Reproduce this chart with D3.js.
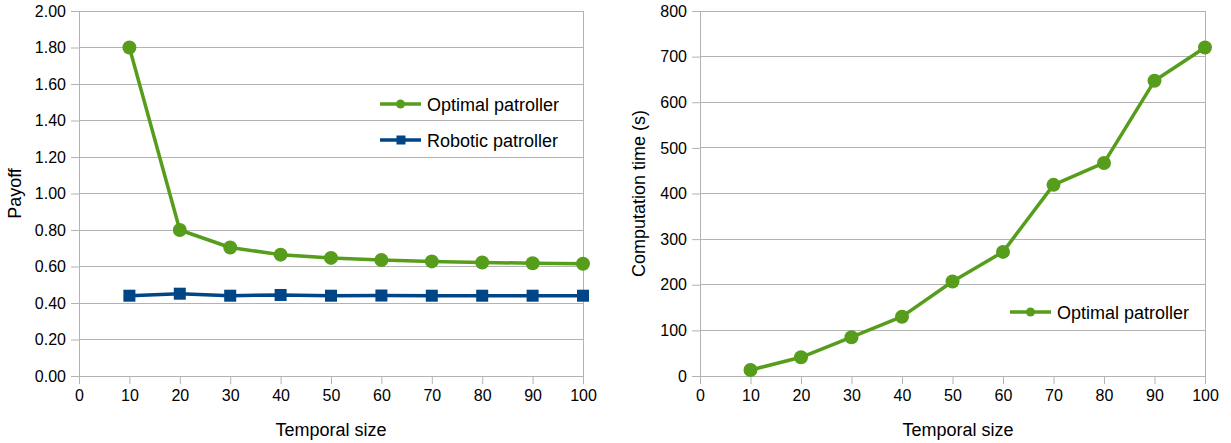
<!DOCTYPE html>
<html>
<head>
<meta charset="utf-8">
<script src="https://cdn.jsdelivr.net/npm/d3@7"></script>
<style>
  html, body { margin: 0; padding: 0; background: #fff; }
  svg { display: block; font-family: "Liberation Sans", Arial, sans-serif; }
</style>
</head>
<body>
<svg id="chart" width="1231" height="443"></svg>
<script>
// Temporal sizes shared by both panels
const temporalSizes = [10, 20, 30, 40, 50, 60, 70, 80, 90, 100];

// Left panel: payoff per patroller
const optimalPayoff = [1.80, 0.80, 0.704, 0.665, 0.647, 0.636, 0.628, 0.622, 0.618, 0.615];
const roboticPayoff = [0.44, 0.451, 0.44, 0.444, 0.44, 0.441, 0.44, 0.44, 0.44, 0.44];

// Right panel: computation time in seconds
const optimalTime = [13, 41, 85, 130, 207, 272, 419, 467, 647, 720];

// Tick values
const xTicks = [0, 10, 20, 30, 40, 50, 60, 70, 80, 90, 100];
const payoffTicks = [0, 0.2, 0.4, 0.6, 0.8, 1.0, 1.2, 1.4, 1.6, 1.8, 2.0];
const timeTicks = [0, 100, 200, 300, 400, 500, 600, 700, 800];

const GREEN = "#579d1c";
const BLUE = "#004586";
const GRID = "#b3b3b3";
const TEXT = "#000";
const TICK_FONT = 16;
const LABEL_FONT = 18;

const svg = d3.select("#chart");

function panel(opts) {
  const g = svg.append("g");
  const x = d3.scaleLinear().domain([0, 100]).range([opts.x0, opts.x1]);
  const y = d3.scaleLinear().domain(opts.yDomain).range([opts.y1, opts.y0]);

  // horizontal grid lines
  g.append("g").selectAll("line").data(opts.yTicks).join("line")
    .attr("x1", opts.x0).attr("x2", opts.x1)
    .attr("y1", d => y(d)).attr("y2", d => y(d))
    .attr("stroke", GRID).attr("stroke-width", 1).attr("shape-rendering", "crispEdges");

  // right border
  g.append("line")
    .attr("x1", opts.x1).attr("x2", opts.x1).attr("y1", opts.y0).attr("y2", opts.y1)
    .attr("stroke", GRID).attr("shape-rendering", "crispEdges");

  // y axis
  const yAxis = d3.axisLeft(y).tickValues(opts.yTicks).tickFormat(opts.yFormat)
    .tickSizeOuter(0).tickSizeInner(8).tickPadding(5);
  const ya = g.append("g").attr("transform", `translate(${opts.x0},0)`).call(yAxis);
  ya.select(".domain").attr("stroke", GRID);
  ya.selectAll(".tick line").attr("stroke", GRID);
  ya.selectAll(".tick text").attr("fill", TEXT).attr("font-size", TICK_FONT)
    .attr("font-family", "Liberation Sans, Arial, sans-serif");

  // x axis
  const xAxis = d3.axisBottom(x).tickValues(xTicks)
    .tickSizeOuter(0).tickSizeInner(8).tickPadding(6);
  const xa = g.append("g").attr("transform", `translate(0,${opts.y1})`).call(xAxis);
  xa.select(".domain").attr("stroke", GRID);
  xa.selectAll(".tick line").attr("stroke", GRID);
  xa.selectAll(".tick text").attr("fill", TEXT).attr("font-size", TICK_FONT)
    .attr("font-family", "Liberation Sans, Arial, sans-serif");

  // axis titles
  g.append("text")
    .attr("x", opts.xTitleX).attr("y", 436)
    .attr("text-anchor", "middle").attr("font-size", LABEL_FONT).attr("fill", TEXT)
    .text("Temporal size");
  g.append("text")
    .attr("transform", `translate(${opts.yTitleX},${(opts.y0 + opts.y1) / 2}) rotate(-90)`)
    .attr("text-anchor", "middle").attr("font-size", LABEL_FONT).attr("fill", TEXT)
    .text(opts.yTitle);

  return { g, x, y };
}

function drawSeries(p, xs, ys, color, shape) {
  const data = xs.map((d, i) => [d, ys[i]]);
  const line = d3.line().x(d => p.x(d[0])).y(d => p.y(d[1]));
  p.g.append("path").datum(data)
    .attr("d", line).attr("fill", "none")
    .attr("stroke", color).attr("stroke-width", 3.5).attr("stroke-linejoin", "round");
  if (shape === "circle") {
    p.g.append("g").selectAll("circle").data(data).join("circle")
      .attr("cx", d => p.x(d[0])).attr("cy", d => p.y(d[1]))
      .attr("r", 7).attr("fill", color);
  } else {
    p.g.append("g").selectAll("rect").data(data).join("rect")
      .attr("x", d => p.x(d[0]) - 6).attr("y", d => p.y(d[1]) - 6)
      .attr("width", 12).attr("height", 12).attr("fill", color);
  }
}

function legendItem(x, y, color, shape, label) {
  const g = svg.append("g");
  g.append("line").attr("x1", x).attr("x2", x + 41).attr("y1", y).attr("y2", y)
    .attr("stroke", color).attr("stroke-width", 3.5);
  if (shape === "circle") {
    g.append("circle").attr("cx", x + 20.5).attr("cy", y).attr("r", 4.5).attr("fill", color);
  } else {
    g.append("rect").attr("x", x + 16.5).attr("y", y - 4.5).attr("width", 9).attr("height", 9).attr("fill", color);
  }
  g.append("text").attr("x", x + 47).attr("y", y + 6.5)
    .attr("font-size", LABEL_FONT).attr("fill", TEXT).text(label);
}

// Left panel: payoff
const left = panel({
  x0: 79, x1: 583, y0: 11, y1: 376,
  yDomain: [0, 2], yTicks: payoffTicks, yFormat: d3.format(".2f"),
  yTitle: "Payoff", yTitleX: 21, xTitleX: 331
});
drawSeries(left, temporalSizes, roboticPayoff, BLUE, "square");
drawSeries(left, temporalSizes, optimalPayoff, GREEN, "circle");
legendItem(380, 104, GREEN, "circle", "Optimal patroller");
legendItem(380, 140, BLUE, "square", "Robotic patroller");

// Right panel: computation time
const right = panel({
  x0: 700, x1: 1205, y0: 11, y1: 376,
  yDomain: [0, 800], yTicks: timeTicks, yFormat: d3.format("d"),
  yTitle: "Computation time (s)", yTitleX: 645, xTitleX: 958
});
drawSeries(right, temporalSizes, optimalTime, GREEN, "circle");
legendItem(1010, 312, GREEN, "circle", "Optimal patroller");
</script>
</body>
</html>
